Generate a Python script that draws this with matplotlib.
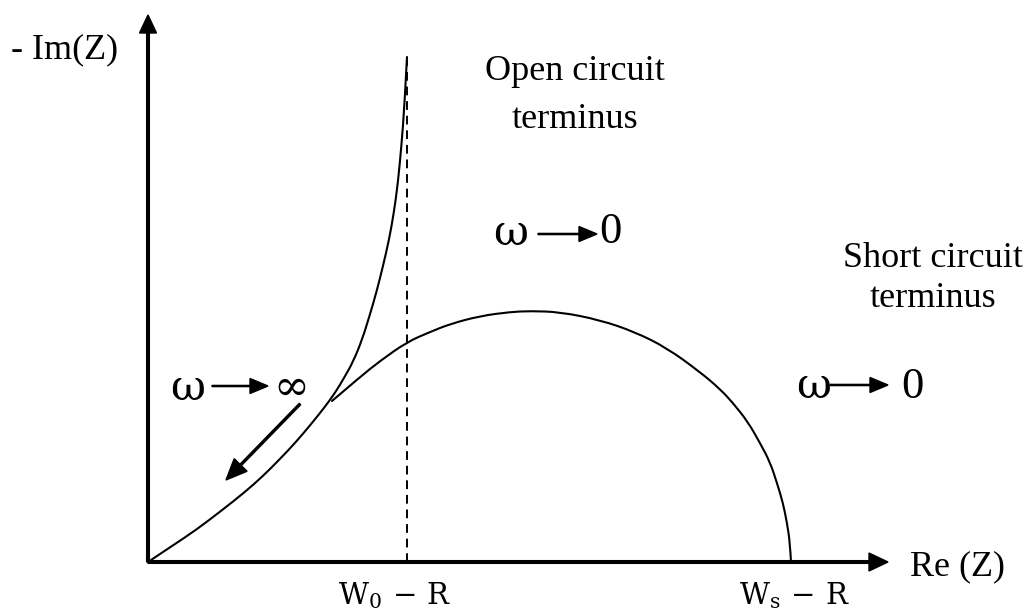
import numpy as np
import matplotlib
matplotlib.use("Agg")
import matplotlib.pyplot as plt
from matplotlib.path import Path
from matplotlib.patches import PathPatch

plt.rcParams['font.family'] = ['Liberation Serif', 'DejaVu Serif']
plt.rcParams['mathtext.fontset'] = 'dejavuserif'

# Nyquist curves for the two finite-length Warburg terminations
open_re = np.array([0.00, 0.24, 0.48, 0.73, 0.97, 1.15, 1.31, 1.48, 1.64, 1.76,
                    1.87, 1.96, 2.05, 2.14, 2.215, 2.285, 2.35, 2.41, 2.46,
                    2.50, 2.535, 2.565, 2.59])
open_im = np.array([0.00, 0.16, 0.32, 0.51, 0.70, 0.86, 1.02, 1.20, 1.39, 1.54,
                    1.69, 1.84, 2.00, 2.22, 2.46, 2.70, 2.96, 3.22, 3.50,
                    3.80, 4.17, 4.57, 5.05])

short_re = np.array([1.84, 2.12, 2.32, 2.59, 2.82, 3.02, 3.32, 3.62, 3.82, 4.12,
                     4.52, 4.87, 5.19, 5.52, 5.72, 5.85, 6.00, 6.12, 6.22, 6.29,
                     6.35, 6.39, 6.42, 6.43])
short_im = np.array([1.61, 1.85, 2.01, 2.20, 2.30, 2.38, 2.46, 2.50, 2.51, 2.50,
                     2.42, 2.30, 2.14, 1.90, 1.73, 1.59, 1.40, 1.19, 1.00, 0.79,
                     0.59, 0.39, 0.19, 0.00])

wo_r = 2.59   # open circuit asymptote
ws_r = 6.43   # short circuit intercept
im_top = 5.05


def smooth_path(x, y):
    # quadratic bezier through the midpoints, read points act as controls
    pts = np.column_stack([x, y])
    verts = [pts[0]]
    codes = [Path.MOVETO]
    n = len(pts)
    for i in range(1, n - 1):
        end = pts[i + 1] if i == n - 2 else (pts[i] + pts[i + 1]) / 2
        verts += [pts[i], end]
        codes += [Path.CURVE3, Path.CURVE3]
    return Path(verts, codes)


fig = plt.figure(figsize=(10.3, 6.11), dpi=100)
ax = fig.add_axes([0, 0, 1, 1])
ax.set_xlim(-1.48, 8.82)
ax.set_ylim(-0.49, 5.62)
ax.axis('off')

# axes with arrow heads
ax.arrow(0, 0, 7.40, 0, width=0.027, head_width=0.18, head_length=0.19,
         length_includes_head=True, color='black')
ax.arrow(0, 0, 0, 5.47, width=0.027, head_width=0.17, head_length=0.18,
         length_includes_head=True, color='black')

# curves
for xs, ys in [(open_re, open_im), (short_re, short_im)]:
    ax.add_patch(PathPatch(smooth_path(xs, ys), facecolor='none',
                           edgecolor='black', lw=1.5, capstyle='round'))
ax.plot([wo_r, wo_r], [0, im_top - 0.03], color='black', lw=1.4,
        dashes=(4.5, 3))

# axis labels
ax.text(-0.83, 5.12, '- Im(Z)', fontsize=26, ha='center', va='center')
ax.text(8.10, -0.05, 'Re (Z)', fontsize=26, ha='center', va='center')
ax.text(2.47, -0.185, r'$\mathrm{W}_{0}\,-\,\mathrm{R}$', fontsize=21,
        ha='center', va='top')
ax.text(6.46, -0.185, r'$\mathrm{W}_{\mathrm{s}}\,-\,\mathrm{R}$', fontsize=21,
        ha='center', va='top')

# terminus labels
ax.text(4.27, 4.82, 'Open circuit', fontsize=26, ha='center', va='baseline')
ax.text(4.27, 4.34, 'terminus', fontsize=26, ha='center', va='baseline')
ax.text(7.85, 2.95, 'Short circuit', fontsize=26, ha='center', va='baseline')
ax.text(7.85, 2.55, 'terminus', fontsize=26, ha='center', va='baseline')

# frequency limits
sym = dict(family='DejaVu Serif', fontsize=31, ha='center', va='baseline')
ax.text(0.395, 1.62, 'ω', **sym)
ax.arrow(0.64, 1.76, 0.56, 0, width=0.012, head_width=0.15, head_length=0.18,
         length_includes_head=True, color='black')
ax.text(1.435, 1.62, '∞', **sym)

ax.text(3.63, 3.17, 'ω', **sym)
ax.arrow(3.90, 3.28, 0.59, 0, width=0.012, head_width=0.15, head_length=0.18,
         length_includes_head=True, color='black')
ax.text(4.62, 3.19, '0', fontsize=32, ha='center', va='baseline')

ax.text(6.66, 1.64, 'ω', **sym)
ax.arrow(6.82, 1.77, 0.58, 0, width=0.012, head_width=0.15, head_length=0.18,
         length_includes_head=True, color='black')
ax.text(7.64, 1.64, '0', fontsize=32, ha='center', va='baseline')

# direction of increasing frequency
ax.arrow(1.52, 1.58, -0.74, -0.76, width=0.02, head_width=0.18,
         head_length=0.21, length_includes_head=True, color='black')

fig.savefig('out.png', dpi=100)
